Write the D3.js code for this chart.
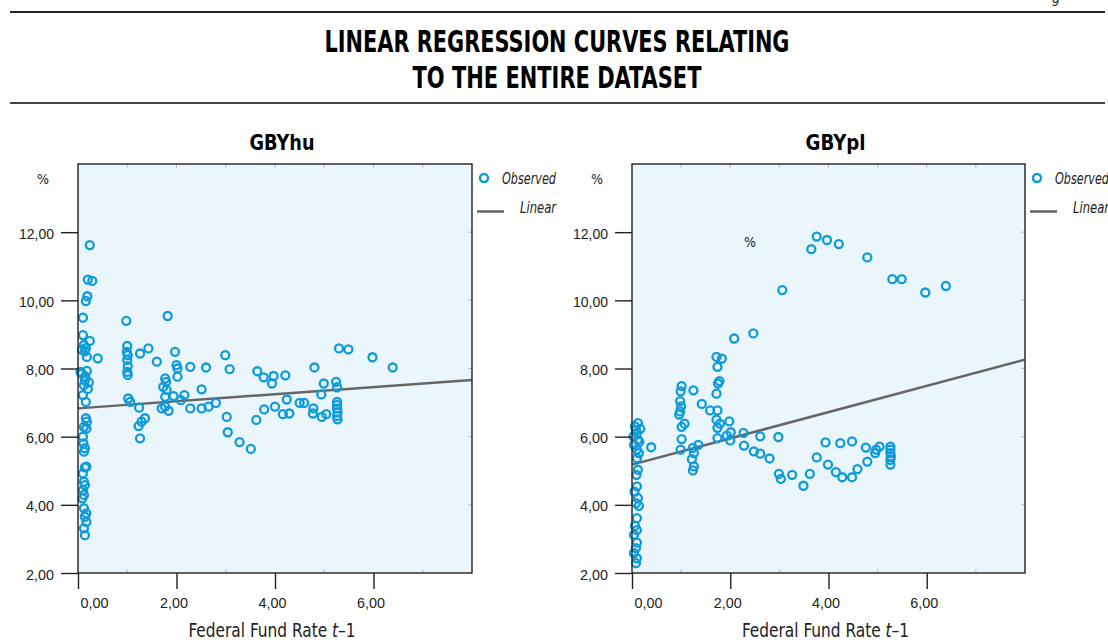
<!DOCTYPE html>
<html>
<head>
<meta charset="utf-8">
<script src="https://cdn.jsdelivr.net/npm/d3@7"></script>
<style>
  body { margin: 0; background: #fff; }
  svg { display: block; }
  text { font-family: "Liberation Sans Narrow", "DejaVu Sans Condensed", "Roboto", sans-serif; fill: #222; }
</style>
</head>
<body>
<svg id="chart" width="1108" height="642"></svg>
<script>
// GBYhu : observed (Federal Fund Rate t-1, yield %)
const huRate = [0.24,0.20,0.29,0.19,0.16,0.10,0.10,0.24,0.12,0.16,0.14,0.18,0.08,0.40,0.05,0.18,0.15,0.22,0.12,0.20,0.10,0.16,0.08,0.14,
  0.16,0.18,0.17,0.12,0.10,0.11,0.14,0.12,0.14,0.17,0.10,0.12,0.14,0.10,0.12,0.09,0.12,0.17,0.14,0.17,0.12,0.14,
  0.98,1.00,0.99,1.01,1.00,1.01,1.00,1.01,1.02,1.06,1.26,1.43,1.60,1.24,1.36,1.29,1.23,1.26,1.82,1.97,2.00,2.02,2.02,2.28,2.60,
  1.77,1.79,1.73,1.80,1.77,1.70,1.84,1.77,1.94,2.16,2.09,2.28,2.51,2.51,2.65,2.80,2.99,3.08,3.02,3.04,3.28,3.51,3.64,3.62,
  3.77,3.97,3.94,4.21,4.80,5.30,5.49,5.98,6.39,4.99,4.94,5.24,5.26,4.24,4.50,4.59,3.78,4.00,4.16,4.29,4.78,4.77,4.95,5.04,
  5.26,5.26,5.26,5.27,5.26,5.27];
const huYield = [11.62,10.61,10.57,10.12,9.98,9.49,8.98,8.81,8.69,8.60,8.50,8.34,8.55,8.30,7.90,7.93,7.76,7.59,7.51,7.40,7.22,7.02,7.85,7.65,
  6.54,6.44,6.24,6.29,6.00,5.80,5.66,5.56,5.10,5.12,4.92,4.68,4.58,4.43,4.29,4.19,3.90,3.75,3.65,3.50,3.31,3.11,
  9.40,8.66,8.49,8.39,8.25,8.07,7.90,7.81,7.12,7.02,8.44,8.59,8.20,6.85,6.54,6.44,6.31,5.95,9.54,8.49,8.10,8.00,7.76,8.05,8.03,
  7.71,7.61,7.46,7.37,7.17,6.83,6.76,6.88,7.19,7.22,7.07,6.83,7.39,6.83,6.88,6.99,8.39,7.98,6.58,6.13,5.84,5.64,7.92,6.49,
  7.74,7.78,7.56,7.80,8.03,8.59,8.56,8.33,8.03,7.56,7.24,7.61,7.45,7.09,6.99,6.99,6.80,6.88,6.66,6.68,6.83,6.68,6.58,6.66,
  7.02,6.93,6.83,6.71,6.61,6.51];

// GBYpl : observed
const plRate = [0.12,0.17,0.06,0.10,0.03,0.12,0.04,0.10,0.14,0.10,0.08,0.15,0.12,0.09,0.10,0.05,0.12,0.08,0.14,0.10,0.06,0.10,0.04,0.10,0.08,0.04,0.10,0.08,0.39,
  1.01,0.99,0.98,1.00,0.98,0.96,1.07,1.01,1.01,0.99,1.25,1.24,1.26,1.22,1.26,1.24,1.35,1.42,1.59,1.74,1.72,1.79,1.74,1.98,1.74,1.93,2.01,2.00,
  2.27,2.28,2.61,2.48,2.61,2.80,2.98,2.99,3.03,3.26,3.49,3.62,3.76,3.94,3.99,4.15,4.28,4.24,4.48,4.48,4.59,4.79,4.76,4.97,5.04,4.95,
  5.26,5.26,5.26,5.27,5.26,5.26,
  1.72,1.83,1.74,1.78,1.75,1.72,2.08,2.47,3.06,3.65,3.76,3.97,4.21,4.79,5.30,5.49,5.97,6.39];
const plYield = [6.40,6.23,6.30,6.11,6.01,5.91,5.76,5.62,5.52,5.37,6.20,5.85,5.03,4.88,4.54,4.39,4.20,4.05,3.97,3.61,3.38,3.26,3.12,2.89,2.73,2.58,2.43,2.29,5.69,
  7.48,7.33,7.04,6.89,6.74,6.65,6.38,6.29,5.93,5.62,7.36,5.67,5.52,5.34,5.13,5.01,5.76,6.96,6.77,6.77,6.50,6.38,6.26,6.45,5.96,6.03,6.13,5.89,
  6.11,5.74,6.01,5.57,5.50,5.36,5.99,4.91,4.76,4.88,4.56,4.91,5.39,5.83,5.18,4.96,4.81,5.81,5.86,4.81,5.05,5.27,5.68,5.62,5.71,5.52,
  5.71,5.62,5.52,5.42,5.32,5.18,
  8.34,8.29,8.05,7.63,7.56,7.26,8.88,9.03,10.30,11.50,11.87,11.77,11.65,11.26,10.62,10.62,10.23,10.42];

// linear fits [intercept, slope]
const huFit = [6.83, 0.104];
const plFit = [5.18, 0.385];

const xTicks = [0, 2, 4, 6];
const yTicks = [2, 4, 6, 8, 10, 12];

const svg = d3.select("#chart");
const blue = "#0e9bd9";
const fmt = d => d3.format(".2f")(d).replace(".", ",");

// header
svg.append("line").attr("x1", 10).attr("x2", 1105).attr("y1", 12).attr("y2", 12)
   .attr("stroke", "#222").attr("stroke-width", 2);
svg.append("line").attr("x1", 10).attr("x2", 1105).attr("y1", 103).attr("y2", 103)
   .attr("stroke", "#444").attr("stroke-width", 2);
svg.append("text").attr("x", 1052).attr("y", 3).style("font-size", "14px").style("font-style", "italic").text("g");

svg.append("text").attr("x", 557).attr("y", 52).attr("text-anchor", "middle")
   .attr("textLength", 465).attr("lengthAdjust", "spacingAndGlyphs")
   .style("font-size", "31px").style("font-weight", "bold").style("fill", "#000")
   .text("LINEAR REGRESSION CURVES RELATING");
svg.append("text").attr("x", 557).attr("y", 88).attr("text-anchor", "middle")
   .attr("textLength", 289).attr("lengthAdjust", "spacingAndGlyphs")
   .style("font-size", "31px").style("font-weight", "bold").style("fill", "#000")
   .text("TO THE ENTIRE DATASET");

function panel(x0, x1, title, titleW, rates, yields, fit) {
  const x = d3.scaleLinear().domain([0, 8]).range([x0, x1]);
  const y = d3.scaleLinear().domain([2, 14]).range([573, 164]);
  const g = svg.append("g");

  g.append("rect").attr("x", x0).attr("y", 164).attr("width", x1 - x0).attr("height", 409)
   .attr("fill", "#eaf5fc");

  // faint inner ticks on the frame
  g.selectAll("line.top").data(d3.range(1, 8)).enter().append("line")
   .attr("x1", d => x(d)).attr("x2", d => x(d)).attr("y1", 164).attr("y2", 168)
   .attr("stroke", "#bbb");
  g.selectAll("line.bot").data([1, 3, 5, 7]).enter().append("line")
   .attr("x1", d => x(d)).attr("x2", d => x(d)).attr("y1", 573).attr("y2", 569)
   .attr("stroke", "#bbb");
  g.selectAll("line.rgt").data(yTicks.slice(1)).enter().append("line")
   .attr("x1", x1).attr("x2", x1 - 4).attr("y1", d => y(d)).attr("y2", d => y(d))
   .attr("stroke", "#bbb");

  // regression line
  g.append("line")
   .attr("x1", x(0)).attr("y1", y(fit[0]))
   .attr("x2", x(8)).attr("y2", y(fit[0] + fit[1] * 8))
   .attr("stroke", "#666").attr("stroke-width", 2.5);

  // observed points
  g.selectAll("circle.obs").data(rates).enter().append("circle")
   .attr("cx", d => x(d)).attr("cy", (d, i) => y(yields[i]))
   .attr("r", 4).attr("fill", "none").attr("stroke", blue).attr("stroke-width", 2.3);

  g.append("rect").attr("x", x0).attr("y", 164).attr("width", x1 - x0).attr("height", 409)
   .attr("fill", "none").attr("stroke", "#222").attr("stroke-width", 1.4);

  // axes
  const ya = g.append("g").attr("transform", `translate(${x0},0)`)
   .call(d3.axisLeft(y).tickValues(yTicks).tickSize(17).tickSizeOuter(0).tickPadding(7).tickFormat(fmt));
  ya.select(".domain").remove();
  ya.selectAll("line").attr("stroke", "#222").attr("stroke-width", 1.4);
  ya.selectAll("text").style("font-size", "15px").style("font-family", "inherit").attr("dy", "0.4em")
    .attr("textLength", d => d >= 10 ? 35 : 28).attr("lengthAdjust", "spacingAndGlyphs");

  const xa = g.append("g").attr("transform", "translate(0,573)")
   .call(d3.axisBottom(x).tickValues(xTicks).tickSize(16).tickSizeOuter(0).tickPadding(8).tickFormat(fmt));
  xa.select(".domain").remove();
  xa.selectAll("line").attr("stroke", "#222").attr("stroke-width", 1.4);
  xa.selectAll("text").style("font-size", "15px").style("font-family", "inherit")
    .attr("textLength", 28).attr("lengthAdjust", "spacingAndGlyphs")
    .attr("dx", d => d === 0 ? 16 : -3);

  // labels
  g.append("text").attr("x", x0 - 35).attr("y", 184).attr("text-anchor", "middle")
   .style("font-size", "14px").text("%");
  g.append("text").attr("x", (x0 + x1) / 2 + 7).attr("y", 150).attr("text-anchor", "middle")
   .attr("textLength", titleW).attr("lengthAdjust", "spacingAndGlyphs")
   .style("font-size", "22px").style("font-weight", "bold").style("fill", "#000").text(title);

  const lab = g.append("text")
   .attr("transform", `translate(${(x0 + x1) / 2 - 3},637) scale(0.9,1)`)
   .attr("text-anchor", "middle").style("font-size", "19px");
  lab.append("tspan").text("Federal Fund Rate ");
  lab.append("tspan").style("font-style", "italic").text("t");
  lab.append("tspan").text("–1");

  // legend
  g.append("circle").attr("cx", x1 + 12).attr("cy", 178).attr("r", 4)
   .attr("fill", "none").attr("stroke", blue).attr("stroke-width", 2.5);
  g.append("text").attr("x", x1 + 30).attr("y", 184).style("font-size", "15px").style("font-style", "italic")
   .attr("textLength", 54).attr("lengthAdjust", "spacingAndGlyphs").text("Observed");
  g.append("line").attr("x1", x1 + 5).attr("x2", x1 + 32).attr("y1", 211.5).attr("y2", 211.5)
   .attr("stroke", "#666").attr("stroke-width", 2.5);
  g.append("text").attr("x", x1 + 84).attr("y", 213).attr("text-anchor", "end")
   .attr("textLength", 36).attr("lengthAdjust", "spacingAndGlyphs")
   .style("font-size", "15px").style("font-style", "italic").text("Linear");

  return g;
}

panel(78, 472, "GBYhu", 65, huRate, huYield, huFit);
const right = panel(632, 1025, "GBYpl", 60, plRate, plYield, plFit);
right.append("text").attr("x", 750).attr("y", 247).attr("text-anchor", "middle")
  .style("font-size", "14px").text("%");
</script>
</body>
</html>
